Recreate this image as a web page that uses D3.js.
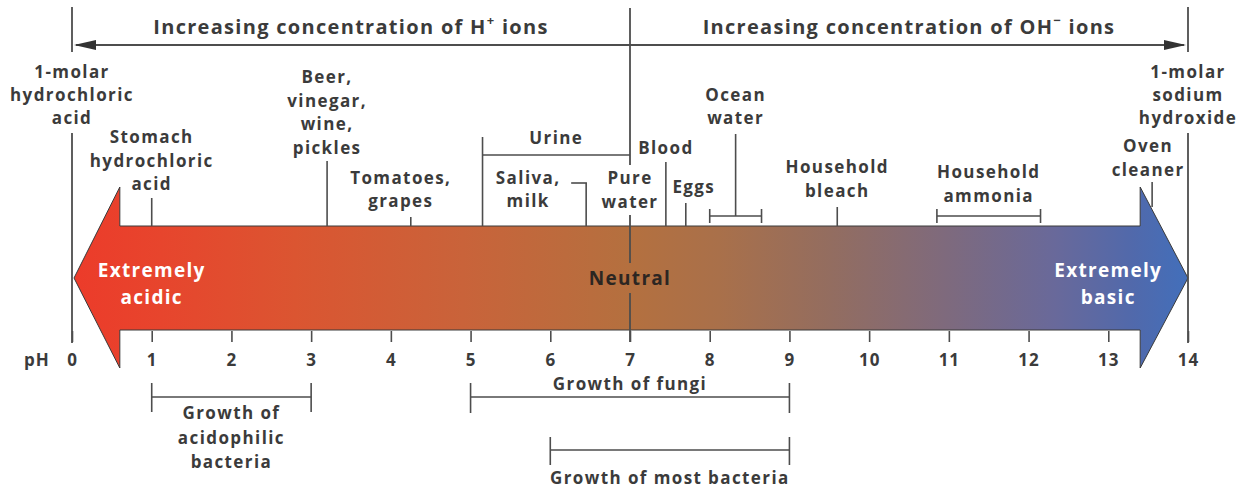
<!DOCTYPE html>
<html><head><meta charset="utf-8">
<script src="https://cdn.jsdelivr.net/npm/d3@7"></script>
<style>
html,body{margin:0;padding:0;background:#fff;}
svg{display:block;font-family:"Open Sans",sans-serif;}
</style></head><body>
<svg id="c" width="1250" height="490"></svg>
<script>
// ---------- data ----------
const phTicks = [0,1,2,3,4,5,6,7,8,9,10,11,12,13,14];
const headerIons = ["H", "OH"];
const headerSigns = ["+", "\u2212"];
const headerPH = [3.5, 10.5];
const endLabels = ["1-molar hydrochloric acid", "1-molar sodium hydroxide"];
const endPH = [0, 14];
const pointLabels = ["Stomach hydrochloric acid", "Beer, vinegar, wine, pickles", "Tomatoes, grapes", "Saliva, milk", "Pure water", "Blood", "Eggs", "Household bleach", "Oven cleaner"];
const pointPH = [1.0, 3.2, 4.25, 6.45, 7.0, 7.45, 7.7, 9.6, 13.55];
const rangeLabels = ["Urine", "Ocean water", "Household ammonia"];
const rangeLow = [5.15, 8.0, 10.85];
const rangeHigh = [7.0, 8.65, 12.15];
const growthLabels = ["Growth of acidophilic bacteria", "Growth of fungi", "Growth of most bacteria"];
const growthLow = [1, 5, 6];
const growthHigh = [3, 9, 9];
const zoneLabels = ["Extremely acidic", "Neutral", "Extremely basic"];
const zonePH = [1, 7, 13];

// ---------- layout (positions / line breaks only) ----------
const layout = {
  "1-molar hydrochloric acid": {lines:["1-molar","hydrochloric","acid"], ys:[72,95,118]},
  "1-molar sodium hydroxide": {lines:["1-molar","sodium","hydroxide"], ys:[72,95,118]},
  "Stomach hydrochloric acid": {lines:["Stomach","hydrochloric","acid"], ys:[137,161,184], dx:0, lead:[198,226]},
  "Beer, vinegar, wine, pickles": {lines:["Beer,","vinegar,","wine,","pickles"], ys:[77,101,124,148], dx:0, lead:[161,226]},
  "Tomatoes, grapes": {lines:["Tomatoes,","grapes"], ys:[178,201], dx:-10, lead:[217,226]},
  "Saliva, milk": {lines:["Saliva,","milk"], ys:[178,201], dx:-58, lead:[183,226], elbow:15},
  "Pure water": {lines:["Pure","water"], ys:[178,202], dx:0, lead:null},
  "Blood": {lines:["Blood"], ys:[148], dx:0, lead:[162,226]},
  "Eggs": {lines:["Eggs"], ys:[187], dx:8, lead:[203,226]},
  "Household bleach": {lines:["Household","bleach"], ys:[167,191], dx:0, lead:[207,226]},
  "Oven cleaner": {lines:["Oven","cleaner"], ys:[146,170], dx:-4, lead:[182,207]},
  "Urine": {lines:["Urine"], ys:[138], dx:0},
  "Ocean water": {lines:["Ocean","water"], ys:[95,118], dx:0},
  "Household ammonia": {lines:["Household","ammonia"], ys:[172,196], dx:0},
  "Growth of acidophilic bacteria": {lines:["Growth of","acidophilic","bacteria"], ys:[413,438,462], by:397, cap:[383,412]},
  "Growth of fungi": {lines:["Growth of fungi"], ys:[384], by:397, cap:[383,413]},
  "Growth of most bacteria": {lines:["Growth of most bacteria"], ys:[478], by:450, cap:[437,465]}
};

const svg = d3.select("#c");
const x = d3.scaleLinear().domain([0,14]).range([72,1188]);
const ink = "#3b3b3b", lineCol = "#4d4d4d";
const FS = 17, LS = "1.4px";

// gradient
const defs = svg.append("defs");
const grad = defs.append("linearGradient").attr("id","g").attr("gradientUnits","userSpaceOnUse")
  .attr("x1", x(0)).attr("x2", x(14)).attr("y1",0).attr("y2",0);
const stops = [[0,"#ec3b2a"],[0.08,"#e7452d"],[0.2,"#db5531"],[0.35,"#c9633a"],[0.5,"#b4703f"],[0.58,"#a9704a"],[0.68,"#936d60"],[0.78,"#7f6a7c"],[0.88,"#69699a"],[0.95,"#5169ab"],[1,"#426fbb"]];
grad.selectAll("stop").data(stops).join("stop").attr("offset",d=>d[0]).attr("stop-color",d=>d[1]);

// big arrow
const yTop = 226, yBot = 330, yMid = 278, hTop = 187, hBot = 368;
const lb = x(0.6), rb = x(13.4);
const arrowPts = [[x(0)+2,yMid],[lb,hTop],[lb,yTop],[rb,yTop],[rb,hTop],[x(14),yMid],[rb,hBot],[rb,yBot],[lb,yBot],[lb,hBot]];
svg.append("path").attr("d", d3.line()(arrowPts)+"Z").attr("fill","url(#g)").attr("stroke","#3a3a3a").attr("stroke-width",1);

function vline(px, y1, y2, w){ svg.append("line").attr("x1",px).attr("x2",px).attr("y1",y1).attr("y2",y2).attr("stroke",lineCol).attr("stroke-width",w||1.6); }
function hline(x1, x2, py, w){ svg.append("line").attr("x1",x1).attr("x2",x2).attr("y1",py).attr("y2",py).attr("stroke",lineCol).attr("stroke-width",w||1.6); }
function label(cx, lines, ys, opts){
  opts = opts || {};
  const t = svg.append("text").attr("text-anchor","middle").attr("font-size",opts.fs||FS).attr("font-weight",700)
    .attr("letter-spacing",opts.ls||LS).attr("fill",opts.fill||ink);
  lines.forEach((s,i)=> t.append("tspan").attr("x",cx).attr("y",ys[i]).attr("dy","0.36em").text(s));
  return t;
}

// top double arrow
const ty = 45;
hline(x(0)+4, x(14)-4, ty, 2);
svg.append("path").attr("d", d3.line()([[x(0)+2,ty],[x(0)+24,ty-5],[x(0)+24,ty+5]])+"Z").attr("fill","#333");
svg.append("path").attr("d", d3.line()([[x(14)-2,ty],[x(14)-24,ty-5],[x(14)-24,ty+5]])+"Z").attr("fill","#333");

// headers
headerIons.forEach((ion,i)=>{
  const t = svg.append("text").attr("x", x(headerPH[i])).attr("y",34).attr("text-anchor","middle")
    .attr("font-size",20).attr("font-weight",700).attr("letter-spacing","1.3px").attr("fill",ink);
  t.append("tspan").text("Increasing concentration of " + ion);
  t.append("tspan").attr("font-size",13).attr("dy",-9).text(headerSigns[i]);
  t.append("tspan").attr("dy",9).text(" ions");
});

// long end lines
endPH.forEach((p,i)=>{
  vline(x(p), 7, 52, 1.8);
  vline(x(p), 133, 343, 1.8);
  const L = layout[endLabels[i]];
  label(x(p), L.lines, L.ys);
});

// pH 7 line
vline(x(7), 8, 165, 1.8);
vline(x(7), 215, 263, 1.8);
vline(x(7), 293, 342, 1.8);

// point labels
pointLabels.forEach((name,i)=>{
  const L = layout[name], px = x(pointPH[i]);
  label(px + (L.dx||0), L.lines, L.ys);
  if (L.lead){
    vline(px, L.lead[0], L.lead[1]);
    if (L.elbow) hline(px - L.elbow, px + 0.8, L.lead[0]);
  }
});

// range labels
rangeLabels.forEach((name,i)=>{
  const L = layout[name], a = x(rangeLow[i]), b = x(rangeHigh[i]);
  if (i === 0){
    hline(a, b, 155);
    vline(a, 137, 226);
    label((a+b)/2, L.lines, L.ys);
  } else {
    hline(a, b, 216);
    vline(a, 209, 223); vline(b, 209, 223);
    const m = (a+b)/2;
    if (i === 1) vline(m, 134, 216);
    label(m, L.lines, L.ys);
  }
});

// zone labels inside arrow
label(x(zonePH[0]), ["Extremely","acidic"], [270,297], {fs:19, fill:"#fff", ls:"1.3px"});
label(x(zonePH[1]), ["Neutral"], [278], {fs:19, fill:"#2c2622", ls:"1.3px"});
label(x(zonePH[2]), ["Extremely","basic"], [270,297], {fs:19, fill:"#fff", ls:"1.3px"});

// axis
const axis = d3.axisBottom(x).tickValues(phTicks).tickSize(11).tickPadding(12).tickFormat(d3.format("d"));
const ag = svg.append("g").attr("transform",`translate(0,${yBot+1})`).call(axis);
ag.select(".domain").remove();
ag.selectAll(".tick line").attr("stroke",lineCol).attr("stroke-width",1.6);
ag.selectAll(".tick text").attr("font-family","Open Sans, sans-serif").attr("font-size",17).attr("font-weight",700).attr("fill",ink).attr("letter-spacing","1px");
svg.append("text").attr("x",37).attr("y",360).attr("dy","0.36em").attr("text-anchor","middle").attr("font-size",17).attr("font-weight",700).attr("letter-spacing","1px").attr("fill",ink).text("pH");

// growth brackets
growthLabels.forEach((name,i)=>{
  const L = layout[name], a = x(growthLow[i]), b = x(growthHigh[i]);
  hline(a, b, L.by);
  vline(a, L.cap[0], L.cap[1]); vline(b, L.cap[0], L.cap[1]);
  label((a+b)/2, L.lines, L.ys);
});
</script>
</body></html>
